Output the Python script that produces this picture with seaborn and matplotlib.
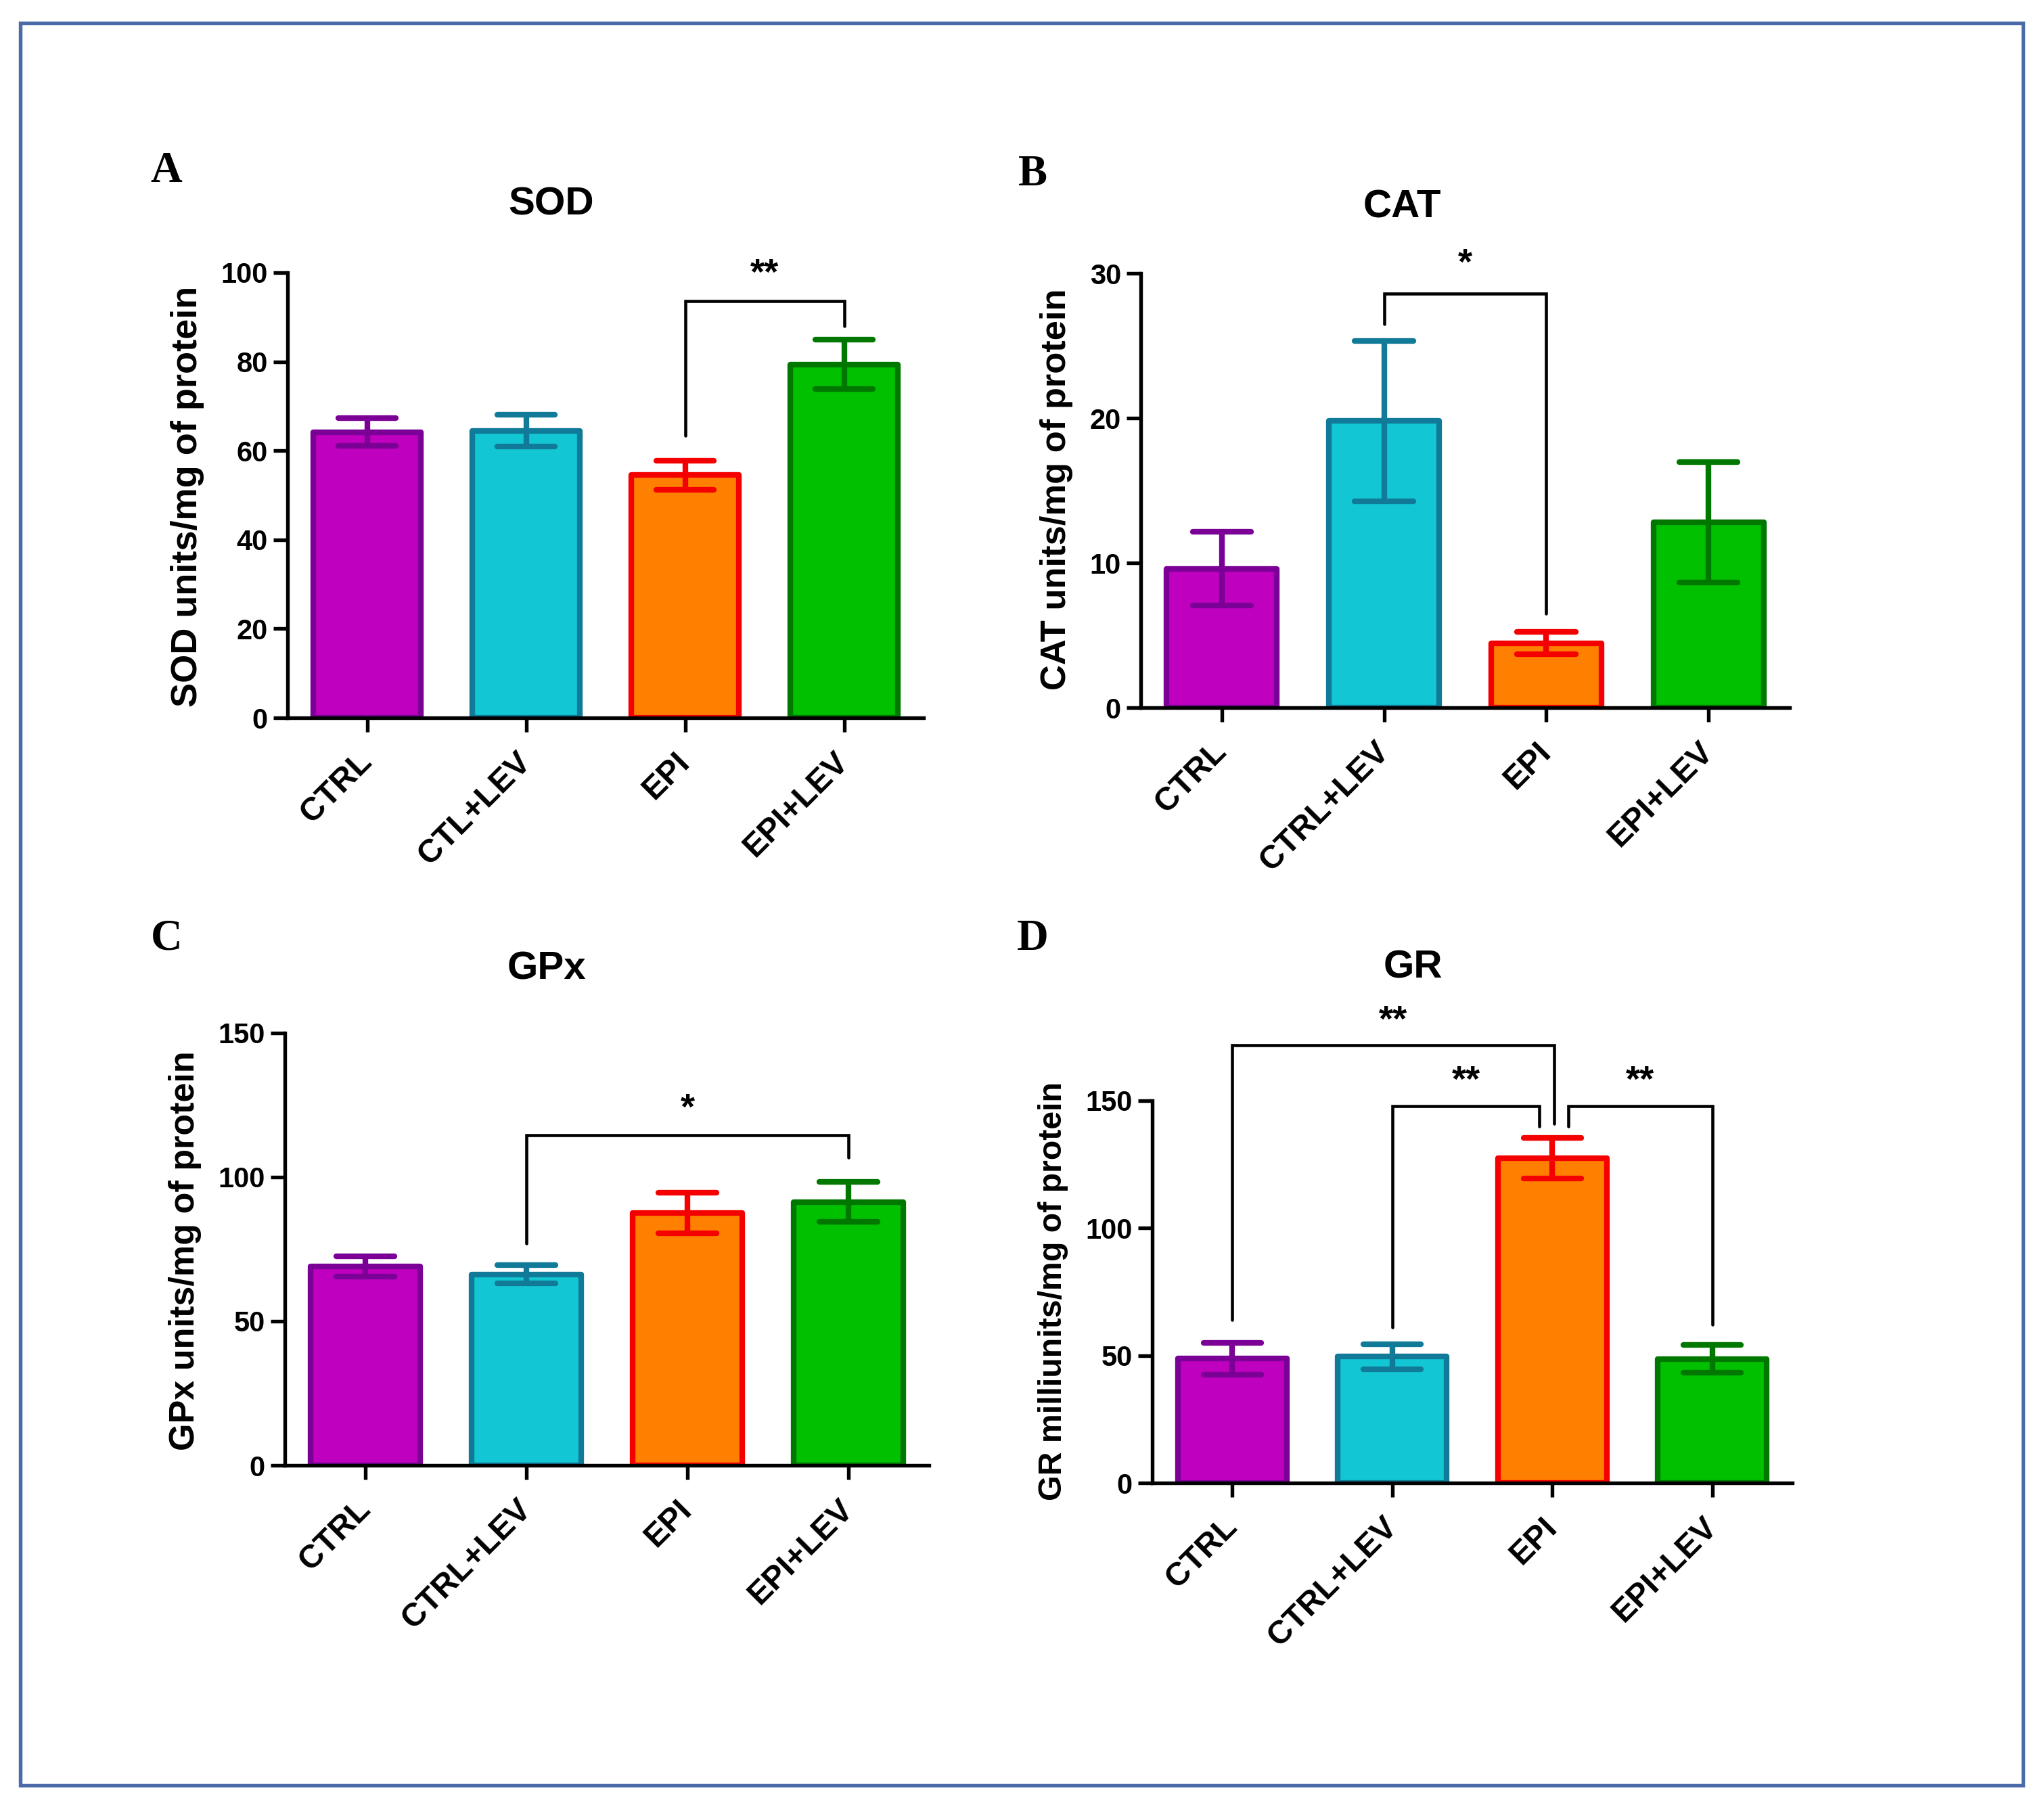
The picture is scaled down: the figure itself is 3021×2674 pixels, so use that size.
import matplotlib
matplotlib.use("Agg")
import matplotlib.pyplot as plt
import matplotlib.transforms as mtransforms
import seaborn as sns
import pandas as pd
from matplotlib.patches import Rectangle

sns.set_theme(style="ticks")
plt.rcParams['font.family'] = ['Liberation Sans', 'DejaVu Sans']
plt.rcParams['font.weight'] = 'bold'

# ---------------- data ----------------
groups_sod = ['CTRL', 'CTL+LEV', 'EPI', 'EPI+LEV']
groups = ['CTRL', 'CTRL+LEV', 'EPI', 'EPI+LEV']

sod_mean = [64.2, 64.5, 54.5, 79.4]
sod_sem = [3.1, 3.6, 3.25, 5.5]

cat_mean = [9.6, 19.8, 4.45, 12.8]
cat_sem = [2.55, 5.55, 0.77, 4.15]

gpx_mean = [69.0, 66.3, 87.5, 91.4]
gpx_sem = [3.6, 3.1, 7.0, 6.9]

gr_mean = [48.8, 49.6, 127.4, 48.7]
gr_sem = [6.2, 4.9, 8.0, 5.5]

fill_colors = ['#bf00bf', '#12c6d4', '#ff8000', '#00c000']
edge_colors = ['#7a0096', '#107a98', '#f40000', '#007800']

W, H = 3021, 2674
DPI = 300
fig = plt.figure(figsize=(W / DPI, H / DPI), dpi=DPI)
fig.patch.set_facecolor('white')


def px_axes(l, t, r, b):
    return fig.add_axes([l / W, 1 - b / H, (r - l) / W, (b - t) / H])


def ftext(x, y, s, **kw):
    fig.text(x / W, 1 - y / H, s, **kw)


def panel(ax, labels, means, sems, ylim, yticks):
    df = pd.DataFrame({'group': labels, 'value': means})
    sns.barplot(data=df, x='group', y='value', hue='group', order=labels,
                hue_order=labels, palette=fill_colors, width=0.68,
                errorbar=None, legend=False, ax=ax, linewidth=2.0,
                saturation=1.0)
    bars = sorted(ax.patches, key=lambda p: p.get_x())
    for p, ec in zip(bars, edge_colors):
        p.set_edgecolor(ec)
        p.set_linewidth(2.0)
        p.set_joinstyle('round')
    cw = 0.18
    for i, (m, s) in enumerate(zip(means, sems)):
        c = edge_colors[i]
        ax.plot([i, i], [m - s, m + s], color=c, lw=2.0, zorder=4,
                solid_capstyle='butt')
        for yy in (m - s, m + s):
            ax.plot([i - cw, i + cw], [yy, yy], color=c, lw=2.0, zorder=4,
                    solid_capstyle='round')
    ax.set_xlim(-0.5, 3.5)
    ax.set_ylim(*ylim)
    ax.set_yticks(yticks)
    ax.set_yticklabels([str(v) for v in yticks], fontsize=10, fontweight='bold')
    ax.set_xticks(range(4))
    ax.set_xticklabels(labels, fontsize=11.5, fontweight='bold', rotation=45,
                       ha='right', va='center', rotation_mode='anchor')
    off = mtransforms.ScaledTranslation(4 / 72, 0, fig.dpi_scale_trans)
    for lab in ax.get_xticklabels():
        lab.set_transform(lab.get_transform() + off)
    ax.set_xlabel('')
    ax.set_ylabel('')
    for sp in ['top', 'right']:
        ax.spines[sp].set_visible(False)
    for sp in ['left', 'bottom']:
        ax.spines[sp].set_linewidth(1.3)
        ax.spines[sp].set_color('black')
    ax.tick_params(axis='y', length=5, width=1.3, color='black', pad=2,
                   labelcolor='black')
    ax.tick_params(axis='x', length=5, width=1.3, color='black', pad=9,
                   labelcolor='black')
    ax.set_facecolor('white')


def bracket(ax, x1, x2, y, y1, y2, text, ty):
    ax.plot([x1, x1, x2, x2], [y1, y, y, y2], color='black', lw=1.1,
            clip_on=False, zorder=5, solid_joinstyle='miter')
    ax.text((x1 + x2) / 2, ty, text, ha='center', va='center',
            fontsize=13, fontweight='bold', color='black', clip_on=False)


# Panel A
axA = px_axes(425, 403, 1365, 1061)
panel(axA, groups_sod, sod_mean, sod_sem, (0, 100), [0, 20, 40, 60, 80, 100])
bracket(axA, 2, 3, 93.6, 63.4, 88, '**', 99.5)

# Panel B
axB = px_axes(1686, 404, 2645, 1046)
panel(axB, groups, cat_mean, cat_sem, (0, 30), [0, 10, 20, 30])
bracket(axB, 1, 2, 28.6, 26.5, 6.5, '*', 30.6)

# Panel C
axC = px_axes(421, 1527, 1373, 2166)
panel(axC, groups, gpx_mean, gpx_sem, (0, 150), [0, 50, 100, 150])
bracket(axC, 1, 3, 114.5, 77, 106.8, '*', 123.5)

# Panel D
axD = px_axes(1703, 1627, 2649, 2192)
panel(axD, groups, gr_mean, gr_sem, (0, 150), [0, 50, 100, 150])
bracket(axD, 0, 2.01, 171.8, 64, 141, '**', 181)
bracket(axD, 1, 1.92, 148, 61, 140, '**', 157.5)
bracket(axD, 2.10, 3, 148, 140, 62, '**', 157.5)

# Titles
for (x, y, s) in [(815, 303, 'SOD'), (2072, 307, 'CAT'),
                  (808, 1433, 'GPx'), (2088, 1431, 'GR')]:
    ftext(x, y, s, ha='center', va='center', fontsize=14, fontweight='bold',
          color='black')

# Y labels
for (x, y, s, fs) in [(277, 734, 'SOD units/mg of protein', 13),
                      (1561, 723, 'CAT units/mg of protein', 12.6),
                      (273, 1849, 'GPx units/mg of protein', 12.5),
                      (1557, 1908, 'GR milliunits/mg of protein', 11.6)]:
    ftext(x, y, s, ha='center', va='center', rotation=90, fontsize=fs,
          fontweight='bold', color='black')

# Panel letters
for (x, y, s) in [(246, 253, 'A'), (1526, 258, 'B'),
                  (246, 1387, 'C'), (1526, 1388, 'D')]:
    ftext(x, y, s, ha='center', va='center', fontsize=15.5, fontweight='bold',
          family=['Liberation Serif', 'DejaVu Serif'], color='black')

# Frame
fig.patches.append(Rectangle((30 / W, 1 - 2639 / H), (2990 - 30) / W,
                             (2639 - 34) / H, transform=fig.transFigure,
                             fill=False, edgecolor='#4a6aa8', linewidth=1.3))

fig.savefig('out.png', dpi=DPI, facecolor='white')
